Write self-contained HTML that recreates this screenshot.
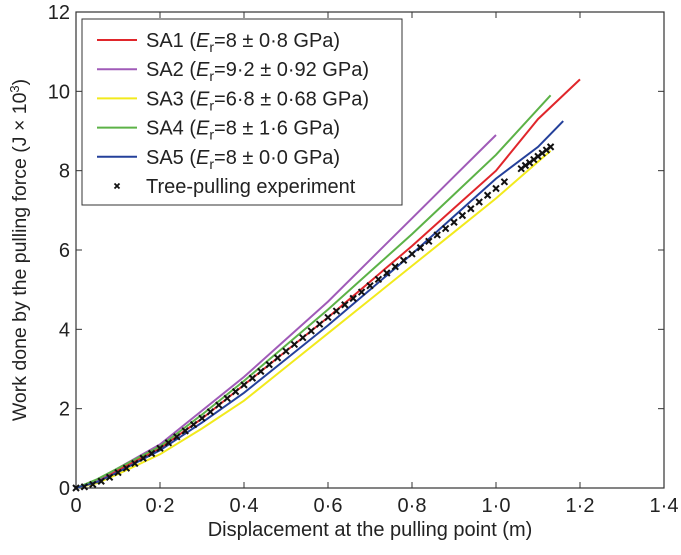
<!DOCTYPE html>
<html><head><meta charset="utf-8"><style>
html,body{margin:0;padding:0;background:#fff;}
svg text{font-family:"Liberation Sans",Arial,sans-serif;fill:#222;}
</style></head><body>
<svg id="chart" width="681" height="550" viewBox="0 0 681 550" xmlns="http://www.w3.org/2000/svg">
<g id="axes"></g>
<g id="series"></g>
<g id="legend"></g>
</svg>
<script>
const xTicks=[0,0.2,0.4,0.6,0.8,1.0,1.2,1.4];
const xTickLabels=["0","0·2","0·4","0·6","0·8","1·0","1·2","1·4"];
const yTicks=[0,2,4,6,8,10,12];
const yTickLabels=["0","2","4","6","8","10","12"];
const seriesNames=["SA1","SA2","SA3","SA4","SA5"];
const seriesLabels=["=8 ± 0·8 GPa)","=9·2 ± 0·92 GPa)","=6·8 ± 0·68 GPa)","=8 ± 1·6 GPa)","=8 ± 0·0 GPa)"];
const seriesColors=["#e0262b","#a05bb8","#f2ea1d","#5cb247","#24409a"];
const sa1X=[0,0.05,0.1,0.2,0.3,0.4,0.5,0.6,0.7,0.8,0.9,1.0,1.1,1.2];
const sa1Y=[0,0.18,0.45,1.0,1.75,2.6,3.45,4.3,5.2,6.1,7.05,8.0,9.3,10.3];
const sa2X=[0,0.05,0.1,0.2,0.3,0.4,0.5,0.6,0.7,0.8,0.9,1.0];
const sa2Y=[0,0.2,0.5,1.1,1.95,2.8,3.75,4.7,5.75,6.8,7.85,8.9];
const sa3X=[0,0.05,0.1,0.2,0.3,0.4,0.5,0.6,0.7,0.8,0.9,1.0,1.13];
const sa3Y=[0,0.12,0.35,0.85,1.5,2.2,3.05,3.9,4.75,5.6,6.45,7.3,8.5];
const sa4X=[0,0.05,0.1,0.2,0.3,0.4,0.5,0.6,0.7,0.8,0.9,1.0,1.13];
const sa4Y=[0,0.22,0.5,1.05,1.85,2.7,3.6,4.5,5.45,6.4,7.4,8.4,9.9];
const sa5X=[0,0.05,0.1,0.2,0.3,0.4,0.5,0.6,0.7,0.8,0.9,1.0,1.1,1.16];
const sa5Y=[0,0.15,0.4,0.95,1.65,2.4,3.25,4.1,5.0,5.9,6.85,7.8,8.6,9.25];
const expX=[0,0.02,0.04,0.06,0.08,0.10,0.12,0.14,0.16,0.18,0.20,0.22,0.24,0.26,0.28,0.30,0.32,0.34,0.36,0.38,0.40,0.42,0.44,0.46,0.48,0.50,0.52,0.54,0.56,0.58,0.60,0.62,0.64,0.66,0.68,0.70,0.72,0.74,0.76,0.78,0.80,0.82,0.84,0.86,0.88,0.90,0.92,0.94,0.96,0.98,1.00,1.02,1.06,1.07,1.08,1.09,1.10,1.11,1.12,1.13];
const expY=[0,0.03,0.09,0.17,0.27,0.39,0.5,0.62,0.75,0.87,1.0,1.14,1.29,1.44,1.6,1.76,1.92,2.09,2.26,2.43,2.6,2.77,2.94,3.11,3.28,3.45,3.62,3.79,3.96,4.13,4.3,4.46,4.62,4.78,4.94,5.1,5.26,5.42,5.58,5.74,5.9,6.06,6.22,6.38,6.54,6.7,6.87,7.04,7.21,7.38,7.55,7.72,8.05,8.13,8.2,8.28,8.36,8.44,8.52,8.6];
const seriesX=[sa1X,sa2X,sa3X,sa4X,sa5X];
const seriesY=[sa1Y,sa2Y,sa3Y,sa4Y,sa5Y];

const L=76,R=664,T=12,B=488;
const xs=v=>L+v/1.4*(R-L);
const ys=v=>B-v/12*(B-T);
const NS="http://www.w3.org/2000/svg";
function mk(tag,attrs,parent){const e=document.createElementNS(NS,tag);for(const k in attrs)e.setAttribute(k,attrs[k]);parent.appendChild(e);return e;}
const axes=document.getElementById('axes');
const frame=mk('rect',{x:L,y:T,width:R-L,height:B-T,fill:'none',stroke:'#333','stroke-width':1.2},axes);


xTicks.forEach((t,i)=>{
 const x=xs(t);
 const a=mk('line',{x1:x,x2:x,y1:B,y2:B-6,stroke:'#333'},axes);
 
 
 const b=mk('line',{x1:x,x2:x,y1:T,y2:T+6,stroke:'#333'},axes);
 
 
 const tx=mk('text',{x:x,y:B+24,'text-anchor':'middle','font-size':20},axes);
 tx.textContent=xTickLabels[i];
 
 
});
yTicks.forEach((t,i)=>{
 const y=ys(t);
 const a=mk('line',{x1:L,x2:L+6,y1:y,y2:y,stroke:'#333'},axes);
 
 
 const b=mk('line',{x1:R,x2:R-6,y1:y,y2:y,stroke:'#333'},axes);
 
 
 const tx=mk('text',{x:L-6,y:y+7,'text-anchor':'end','font-size':20},axes);
 tx.textContent=yTickLabels[i];
 
 
});
const xt=mk('text',{x:370,y:536,'text-anchor':'middle','font-size':20},axes);
xt.textContent='Displacement at the pulling point (m)';


const yt=mk('text',{x:0,y:0,'text-anchor':'middle','font-size':19.5,transform:'translate(26,250) rotate(-90)'},axes);
yt.innerHTML='Work done by the pulling force (J × 10<tspan dy="-7" font-size="13">3</tspan><tspan dy="7">)</tspan>';



const sg=document.getElementById('series');
seriesX.forEach((xa,i)=>{
 const d=xa.map((v,j)=>(j?'L':'M')+xs(v).toFixed(1)+' '+ys(seriesY[i][j]).toFixed(1)).join(' ');
 const p=mk('path',{d:d,fill:'none',stroke:seriesColors[i],'stroke-width':2},sg);
 
 
});
expX.forEach((v,j)=>{
 const x=xs(v),y=ys(expY[j]);
 const p=mk('path',{d:`M${x-3} ${y-3}L${x+3} ${y+3}M${x-3} ${y+3}L${x+3} ${y-3}`,stroke:'#111','stroke-width':2},sg);
 
 
});

const lg=document.getElementById('legend');
const box=mk('rect',{x:82,y:19,width:320,height:186,fill:'#fff',stroke:'#333','stroke-width':1},lg);


seriesNames.forEach((n,i)=>{
 const y=40+i*29.2;
 const ln=mk('line',{x1:97,x2:137,y1:y,y2:y,stroke:seriesColors[i],'stroke-width':2},lg);
 
 
 const t=mk('text',{x:146,y:y+7,'font-size':20},lg);
 t.innerHTML=n+' (<tspan font-style="italic">E</tspan><tspan dy="5" font-size="14">r</tspan><tspan dy="-5">'+seriesLabels[i]+'</tspan>';
 
 
});
const my=40+5*29.2;
const mx=mk('path',{d:`M114.5 ${my-2.5}L119.5 ${my+2.5}M114.5 ${my+2.5}L119.5 ${my-2.5}`,stroke:'#111','stroke-width':1.8},lg);


const et=mk('text',{x:146,y:my+7,'font-size':20},lg);
et.textContent='Tree-pulling experiment';


</script>
</body></html>
